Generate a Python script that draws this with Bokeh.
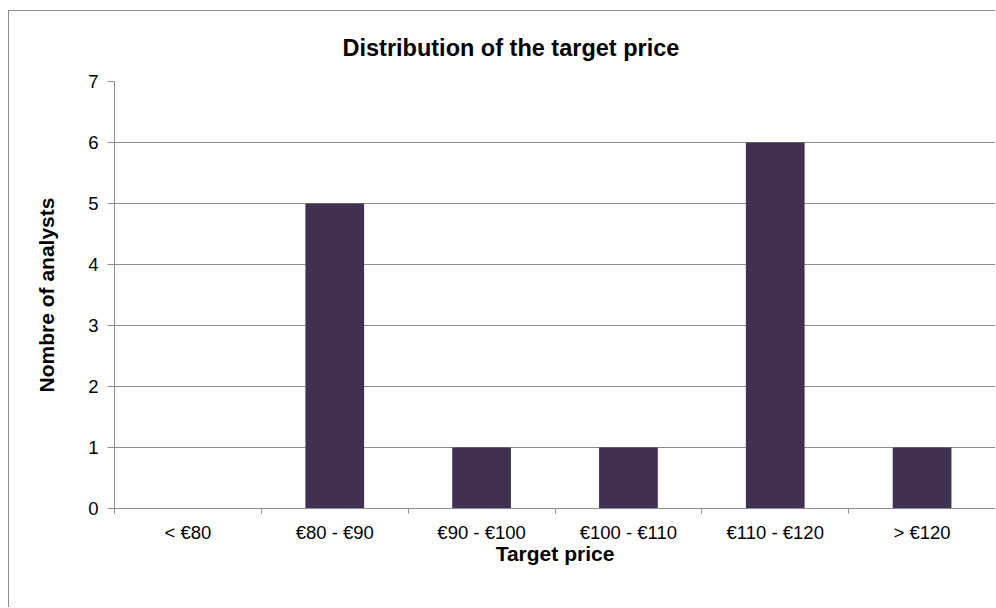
from bokeh.plotting import figure
from bokeh.models import Range1d, LinearAxis, FixedTicker, Title
from bokeh.embed import file_html
from bokeh.resources import INLINE

categories = ["< €80", "€80 - €90", "€90 - €100", "€100 - €110", "€110 - €120", "> €120"]
analysts = [0, 5, 1, 1, 6, 1]
y_ticks = [0, 1, 2, 3, 4, 5, 6, 7]
title_text = "Distribution of the target price"

FONT = "Liberation Sans"
AXIS_COL = "#8c8c8c"
BAR_COL = "#403152"

n = len(categories)
centers = [i + 0.5 for i in range(n)]
bounds = list(range(n + 1))

p = figure(
    width=987, height=597,
    x_range=Range1d(0, n),
    y_range=Range1d(0, y_ticks[-1]),
    x_axis_location=None, y_axis_location=None,
    output_backend="svg", toolbar_location=None,
    min_border_left=105, min_border_top=69, min_border_bottom=100, min_border_right=1,
)
p.styles = {
    "margin-left": "8px", "margin-top": "10px",
    "border-left": "1px solid #8c8c8c", "border-top": "1px solid #8c8c8c",
}
p.outline_line_color = None
p.background_fill_color = "white"
p.border_fill_color = "white"

# chart title
title = Title(
    text=title_text, text_font=FONT, text_font_size="23.5px", text_font_style="bold",
    text_color="black", align="left", offset=228, standoff=42,
)
p.add_layout(title, "above")

p.vbar(x=centers, top=analysts, width=0.4, color=BAR_COL, line_color=None)

# y axis
yax = LinearAxis(ticker=FixedTicker(ticks=y_ticks))
yax.axis_label = "Nombre of analysts"
yax.axis_label_text_font = FONT
yax.axis_label_text_font_size = "21px"
yax.axis_label_text_font_style = "bold"
yax.axis_label_text_color = "black"
yax.axis_label_standoff = 27
yax.major_label_text_font = FONT
yax.major_label_text_font_size = "18.5px"
yax.major_label_text_color = "black"
yax.major_label_standoff = 9
yax.axis_line_color = AXIS_COL
yax.major_tick_line_color = AXIS_COL
yax.major_tick_out = 7
yax.major_tick_in = 0
yax.minor_tick_line_color = None
p.add_layout(yax, "left")

# x axis: labels at category centres, ticks (minor) at category boundaries
xax = LinearAxis(ticker=FixedTicker(ticks=centers, minor_ticks=bounds))
xax.major_label_overrides = {c: lab for c, lab in zip(centers, categories)}
xax.axis_line_color = AXIS_COL
xax.major_tick_line_color = None
xax.major_tick_out = 5
xax.major_tick_in = 0
xax.minor_tick_line_color = AXIS_COL
xax.minor_tick_out = 5
xax.minor_tick_in = 0
xax.major_label_text_font = FONT
xax.major_label_text_font_size = "18.5px"
xax.major_label_text_color = "black"
xax.major_label_standoff = 8
xax.axis_label = "Target price"
xax.axis_label_text_font = FONT
xax.axis_label_text_font_size = "21px"
xax.axis_label_text_font_style = "bold"
xax.axis_label_text_color = "black"
xax.axis_label_standoff = -4
p.add_layout(xax, "below")

p.xgrid.visible = False
p.ygrid.grid_line_color = AXIS_COL
p.ygrid.ticker = FixedTicker(ticks=y_ticks)

open("out.html", "w").write(file_html(p, INLINE))
